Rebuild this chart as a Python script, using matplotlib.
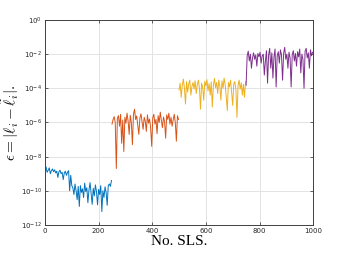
import numpy as np
import matplotlib
matplotlib.use("Agg")
import matplotlib.pyplot as plt

# error per SLS sample (every 4th sample)
blue_err = [1.8e-9, 2.5e-9, 1.2e-9, 1.6e-9, 2.2e-9, 1.0e-9, 1.5e-9, 1.9e-9, 1.3e-9, 1.7e-9,
            1.1e-9, 1.4e-9, 6e-10, 1.3e-9, 1.6e-9, 1.0e-9, 1.2e-9, 4.5e-10, 1.1e-9, 1.4e-9,
            8e-10, 1.2e-9, 1.5e-9, 1.0e-10, 8e-10, 2e-10,
            1.5e-10, 6e-11, 2.5e-10, 1e-10, 3e-11, 1.8e-10, 1.2e-11, 2e-10, 8e-11, 1.3e-10,
            4e-11, 2.8e-10, 9e-11, 1.5e-10, 2e-11, 1.1e-10, 3e-10, 7e-11, 1.6e-11, 1.4e-10,
            5e-11, 2.2e-10, 9e-11, 1.5e-11, 1.2e-10, 6e-11, 2e-10, 6e-12, 1e-10, 4e-11,
            1.7e-10, 8e-11, 1.4e-11, 2e-10, 2.5e-10, 1.8e-10, 4e-10]
orange_err = [8e-7, 1.5e-6, 2.2e-6, 1.0e-6, 2e-9, 1.8e-6, 2.5e-6, 6e-7, 3e-6, 6e-8,
              1.4e-6, 2e-8, 2.0e-6, 9e-7, 3.5e-6, 1.2e-6, 2e-7, 2.6e-6, 1.0e-6, 5e-8,
              3e-6, 6e-6, 1.5e-6, 2.4e-6, 7e-7, 2e-7, 1.8e-6, 3.2e-6, 1.1e-6, 4e-7,
              2.0e-6, 1.2e-6, 3e-7, 2.8e-6, 9e-7, 1.6e-6, 5e-7, 4e-8, 1.9e-6, 3e-6,
              8e-7, 1.5e-6, 2.2e-7, 2.5e-6, 1.0e-6, 4e-6, 1.3e-6, 5e-7, 2.1e-6, 1.1e-6,
              1.2e-7, 2.8e-6, 1.5e-6, 3.5e-6, 8e-7, 2.0e-6, 6e-7, 1.4e-6, 3e-6, 1.0e-6,
              8e-8, 2.5e-6, 1.5e-6]
yellow_err = [8e-5, 2e-4, 3e-5, 1.5e-4, 3.5e-4, 1e-4, 1.2e-5, 2.5e-4, 6e-5, 1.8e-4,
              3e-4, 4e-5, 1.3e-4, 2.2e-4, 9e-5, 2.8e-4, 5e-5, 1.6e-4, 3e-4, 1e-4,
              6e-6, 2e-4, 1.2e-4, 2e-5, 2.6e-4, 1.4e-4, 3.2e-4, 7e-5, 1.9e-4, 4e-5,
              2.4e-4, 8e-6, 1.5e-4, 3.8e-4, 1.1e-4, 2.2e-4, 5e-5, 3e-4, 1.3e-4, 2e-5,
              2.7e-4, 1e-4, 4e-4, 1.6e-4, 3e-5, 5e-6, 2.2e-4, 1.2e-4, 3e-4, 6e-5,
              1e-5, 1.8e-4, 2.5e-4, 8e-5, 2e-6, 1.5e-4, 3e-4, 9e-5, 2.1e-4, 4e-5,
              1.7e-4, 3e-5, 2.5e-4]
purple_err = [1.5e-4, 8e-3, 1.5e-2, 4e-3, 1.0e-2, 1.5e-3, 6e-3, 1.2e-2, 5e-3, 9e-3,
              2e-3, 1.1e-2, 7e-3, 1.3e-2, 3e-3, 8e-3, 1.0e-2, 6e-4, 4e-3, 1.6e-2,
              2e-4, 9e-3, 2.2e-2, 1.5e-3, 1.2e-2, 4e-4, 7e-3, 2e-2, 1.2e-4, 8e-3,
              1.4e-2, 3e-3, 1.8e-2, 9e-3, 3e-4, 1.1e-2, 2.5e-2, 5e-3, 1.0e-2, 1.5e-3,
              1.3e-2, 6e-3, 1.2e-4, 9e-3, 1.6e-2, 4e-3, 1.1e-2, 2e-3, 1.4e-2, 7e-3,
              2e-2, 8e-4, 1.0e-2, 5e-3, 1e-4, 1.5e-2, 2.2e-2, 6e-3, 1.2e-2, 1.5e-3,
              1.8e-2, 8e-3, 1.3e-2]

series = [blue_err, orange_err, yellow_err, purple_err]
starts = [0, 250, 500, 750]
colors = ["#0072BD", "#D95319", "#EDB120", "#7E2F8E"]

plt.rcParams["mathtext.fontset"] = "cm"

fig = plt.figure(figsize=(3.46, 2.6), dpi=100)
ax = fig.add_axes([0.130, 0.135, 0.775, 0.788])

for vals, s, c in zip(series, starts, colors):
    x = s + 4 * np.arange(len(vals))
    ax.plot(x, vals, color=c, linewidth=0.7)

ax.set_yscale("log")
ax.set_xlim(0, 1000)
ax.set_ylim(1e-12, 1e0)
ax.set_xticks([0, 200, 400, 600, 800, 1000])
ax.set_yticks([1e-12, 1e-10, 1e-8, 1e-6, 1e-4, 1e-2, 1e0])
ax.minorticks_off()
ax.grid(True, color="#e3e3e3", linewidth=0.7)
ax.set_axisbelow(True)
ax.tick_params(direction="in", top=True, right=True, labelsize=5,
               length=2.5, width=0.5, colors="#262626", pad=2)
for sp in ax.spines.values():
    sp.set_color("#404040")
    sp.set_linewidth(0.7)

ax.set_xlabel("No. SLS.", family="Liberation Serif", fontsize=11, labelpad=1)
ax.set_ylabel(r"$\epsilon = |\ell_i - \tilde{\ell}_i|.$", fontsize=11)
ax.yaxis.set_label_coords(-0.088, 0.5)

fig.savefig("out.png", dpi=100)
